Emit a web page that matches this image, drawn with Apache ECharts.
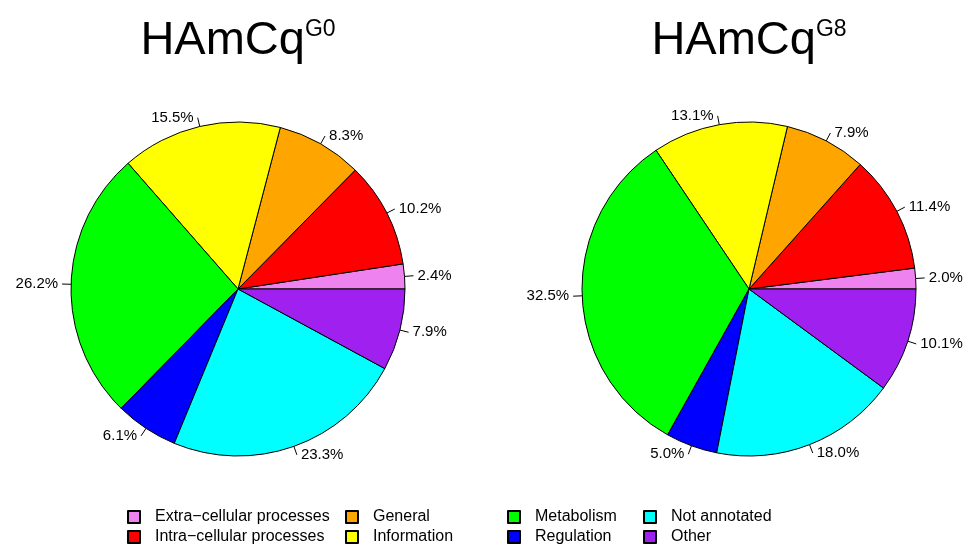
<!DOCTYPE html>
<html>
<head>
<meta charset="utf-8">
<script src="https://cdn.jsdelivr.net/npm/echarts@6/dist/echarts.min.js"></script>
<style>
  html, body { margin: 0; padding: 0; background: #fff; }
  #main { width: 970px; height: 548px; }
</style>
</head>
<body>
<div id="main"></div>
<script>
var categories = ['Extra\u2212cellular processes', 'Intra\u2212cellular processes', 'General', 'Information',
                  'Metabolism', 'Regulation', 'Not annotated', 'Other'];
var colors = ['#EE82EE', '#FF0000', '#FFA500', '#FFFF00', '#00FF00', '#0000FF', '#00FFFF', '#A020F0'];
var valuesG0 = [2.4, 10.2, 8.3, 15.5, 26.2, 6.1, 23.3, 7.9];
var valuesG8 = [2.0, 11.4, 7.9, 13.1, 32.5, 5.0, 18.0, 10.1];

var FONT = '"Liberation Sans", Arial, Helvetica, sans-serif';

function makeData(vals) {
    return categories.map(function (c, i) {
        return { name: c, value: vals[i], itemStyle: { color: colors[i] } };
    });
}

function makePie(vals, cx) {
    return {
        type: 'pie',
        center: [cx, 289],
        radius: [0, 167],
        startAngle: 0,
        clockwise: false,          // R draws counter-clockwise from 3 o'clock
        avoidLabelOverlap: false,
        animation: false,
        itemStyle: { borderColor: '#000', borderWidth: 1 },
        label: {
            show: true,
            position: 'outside',
            color: '#000',
            fontFamily: FONT,
            fontSize: 15,
            distanceToLabelLine: 4,
            formatter: function (p) { return p.value.toFixed(1) + '%'; }
        },
        labelLine: {
            show: true,
            length: 9,
            length2: 0,
            smooth: false,
            lineStyle: { color: '#000', width: 1 }
        },
        emphasis: { scale: false },
        data: makeData(vals)
    };
}

function makeTitle(sup, cx) {
    return {
        text: '{a|HAmCq}{b|' + sup + '}',
        left: cx,
        top: 18,
        padding: 0,
        textAlign: 'center',
        textStyle: {
            fontWeight: 'normal',
            rich: {
                a: { fontFamily: FONT, fontSize: 47, lineHeight: 47, fontWeight: 'normal', color: '#000' },
                b: { fontFamily: FONT, fontSize: 23, lineHeight: 14, fontWeight: 'normal', color: '#000', verticalAlign: 'top' }
            }
        }
    };
}

function makeLegend(names, x) {
    return {
        orient: 'vertical',
        left: x,
        top: 508,
        padding: 0,
        itemWidth: 12,
        itemHeight: 12,
        itemGap: 2,
        icon: 'rect',
        selectedMode: false,
        textStyle: { fontFamily: FONT, fontSize: 16, lineHeight: 18, color: '#000', padding: [0, 0, 0, 10] },
        data: names
    };
}

var myChart = echarts.init(document.getElementById('main'));
var option = {
    backgroundColor: '#fff',
    animation: false,
    title: [makeTitle('G0', 238), makeTitle('G8', 749)],
    legend: [
        makeLegend([categories[0], categories[1]], 127),
        makeLegend([categories[2], categories[3]], 345),
        makeLegend([categories[4], categories[5]], 507),
        makeLegend([categories[6], categories[7]], 643)
    ],
    series: [makePie(valuesG0, 238), makePie(valuesG8, 749)]
};
myChart.setOption(option);
</script>
</body>
</html>
